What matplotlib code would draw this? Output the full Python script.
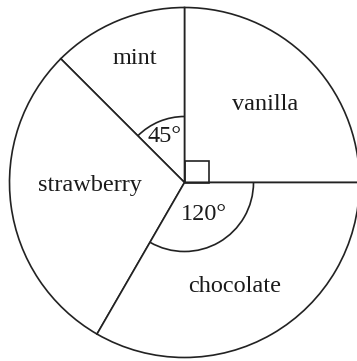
import matplotlib
matplotlib.use("Agg")
import matplotlib.pyplot as plt
from matplotlib.patches import Arc, Rectangle

flavours = ["vanilla", "mint", "strawberry", "chocolate"]
angles = [90, 45, 105, 120]
shown_angles = ["mint", "chocolate"]

W, H = 357, 361
fig = plt.figure(figsize=(W / 100, H / 100), dpi=100)
ax = fig.add_axes([0, 0, 1, 1])

cx, cy, R = 184.5, 178.5, 175
lw = 1.2
ax.pie(angles, startangle=0, counterclock=True, center=(cx, cy), radius=R,
       colors=["white"] * 4, frame=True,
       wedgeprops=dict(edgecolor="#222222", linewidth=lw))
ax.set_xlim(0, W)
ax.set_ylim(0, H)
ax.set_aspect("equal")
ax.axis("off")

font = dict(family="Liberation Serif", fontsize=17.5, color="#1a1a1a")
label_pos = {"mint": (135, 303), "vanilla": (265, 256), "strawberry": (90, 176),
             "chocolate": (235, 74)}
for f in flavours:
    x, y = label_pos[f]
    ax.text(x, y, f, ha="center", va="center", **font)

# angle arcs
start = 0
arc_r = {"mint": 66, "chocolate": 69}
ang_pos = {"mint": (165, 224), "chocolate": (204, 146)}
for f, a in zip(flavours, angles):
    if f in shown_angles:
        ax.add_patch(Arc((cx, cy), 2 * arc_r[f], 2 * arc_r[f], theta1=start,
                         theta2=start + a, color="#222222", linewidth=lw))
        x, y = ang_pos[f]
        ax.text(x, y, f"{a}°", ha="center", va="center", **font)
    start += a

# right-angle mark for vanilla
ax.add_patch(Rectangle((cx, cy), 24, 22, fill=False, edgecolor="#222222", linewidth=lw))

fig.savefig("out.png", dpi=100)
